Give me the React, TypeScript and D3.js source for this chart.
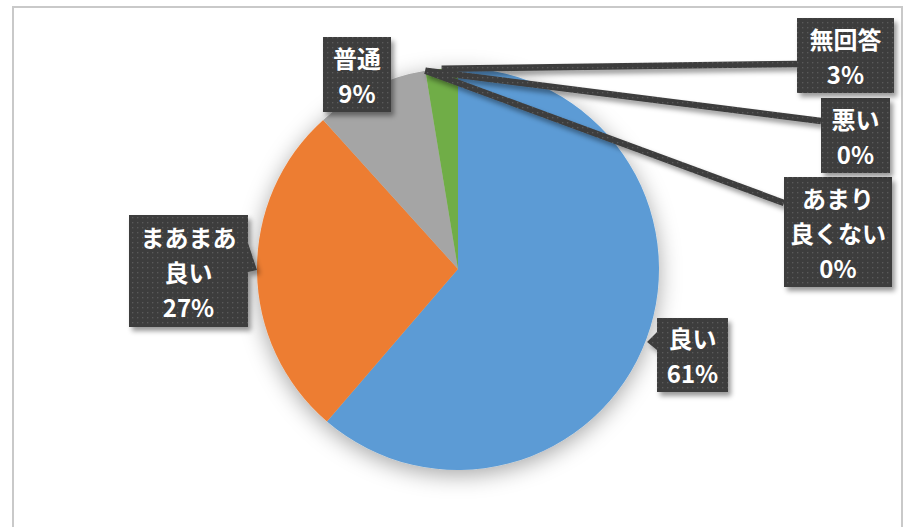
import React from 'react';
import * as d3 from 'd3';

const categories = ['良い', 'まあまあ良い', '普通', 'あまり良くない', '悪い', '無回答'];
const values = [61.3, 27.0, 9.1, 0, 0, 2.6];
const colors = ['#5B9BD5', '#ED7D31', '#A5A5A5', '#FFC000', '#4472C4', '#70AD47'];
const labelLines = [['良い'], ['まあまあ', '良い'], ['普通'], ['あまり', '良くない'], ['悪い'], ['無回答']];

// layout of data labels (box rect, optional pointer, optional leader end)
const labelLayout = [
  { x: 657, y: 318, w: 71, h: 74, pointer: { side: 'left', tip: [647, 342], a: 332, b: 350 } },
  { x: 129, y: 215, w: 119, h: 112, pointer: { side: 'right', tip: [257, 270], a: 243, b: 272 } },
  { x: 323, y: 37, w: 68, h: 75 },
  { x: 784, y: 177, w: 108, h: 110, leader: [784, 203] },
  { x: 821, y: 98, w: 69, h: 75, leader: [821, 121] },
  { x: 797, y: 18, w: 97, h: 75, leader: [797, 64] },
];

const W = 914, H = 527;
const cx = 458, cy = 269, R = 201;
const lineGap = 35;

export default function App() {
  const total = d3.sum(values);
  const pie = d3.pie<number>().sort(null).value((d) => d)(values);
  const arc = d3.arc<d3.PieArcDatum<number>>().innerRadius(0).outerRadius(R);

  return (
    <svg width={W} height={H} style={{ position: 'absolute', left: 0, top: 0, display: 'block', background: '#fff' }}
      fontFamily="'Noto Sans CJK JP', 'Noto Sans', sans-serif">
      <defs>
        <pattern id="dots" width="5" height="5" patternUnits="userSpaceOnUse">
          <rect width="5" height="5" fill="#3d3d3d" />
          <rect x="2" y="2" width="1.3" height="1.3" fill="#5a5a5a" />
        </pattern>
        <filter id="pieShadow" x="-30%" y="-30%" width="160%" height="160%">
          <feDropShadow dx="0" dy="5" stdDeviation="11" floodColor="#000" floodOpacity="0.35" />
        </filter>
        <filter id="boxShadow" x="-20%" y="-20%" width="150%" height="150%">
          <feDropShadow dx="3" dy="4" stdDeviation="2.5" floodColor="#000" floodOpacity="0.4" />
        </filter>
      </defs>
      <rect x={13} y={7} width={889} height={560} fill="#fff" stroke="#c9c9c9" strokeWidth={2} />
      <g transform={`translate(${cx},${cy})`} filter="url(#pieShadow)">
        {pie.map((p, i) => (
          <path key={i} d={arc(p) || ''} fill={colors[i]} />
        ))}
      </g>
      {/* leader lines */}
      <g filter="url(#boxShadow)">
        {pie.map((p, i) => {
          const L = labelLayout[i];
          if (!L.leader) return null;
          const mid = (p.startAngle + p.endAngle) / 2;
          const sx = cx + R * Math.sin(mid);
          const sy = cy - R * Math.cos(mid);
          return (
            <line key={i} x1={sx} y1={sy} x2={L.leader[0]} y2={L.leader[1]}
              stroke="url(#dots)" strokeWidth={6.5} />
          );
        })}
      </g>
      {/* label boxes */}
      {pie.map((p, i) => {
        const L = labelLayout[i];
        const { x, y, w, h } = L;
        let d = `M${x},${y}H${x + w}`;
        if (L.pointer && L.pointer.side === 'right') {
          const pt = L.pointer;
          d += `V${pt.a}L${pt.tip[0]},${pt.tip[1]}L${x + w},${pt.b}V${y + h}H${x}Z`;
        } else if (L.pointer && L.pointer.side === 'left') {
          const pt = L.pointer;
          d += `V${y + h}H${x}V${pt.b}L${pt.tip[0]},${pt.tip[1]}L${x},${pt.a}Z`;
        } else {
          d += `V${y + h}H${x}Z`;
        }
        const lines = [...labelLines[i], `${Math.round((values[i] / total) * 100)}%`];
        const midY = y + h / 2;
        const startY = midY - ((lines.length - 1) * lineGap) / 2;
        return (
          <g key={i}>
            <path d={d} fill="url(#dots)" filter="url(#boxShadow)" />
            {lines.map((t, j) => (
              <text key={j} x={x + w / 2} y={startY + j * lineGap} textAnchor="middle"
                dominantBaseline="central" fill="#fff" fontSize={24} fontWeight="bold">
                {t}
              </text>
            ))}
          </g>
        );
      })}
    </svg>
  );
}
